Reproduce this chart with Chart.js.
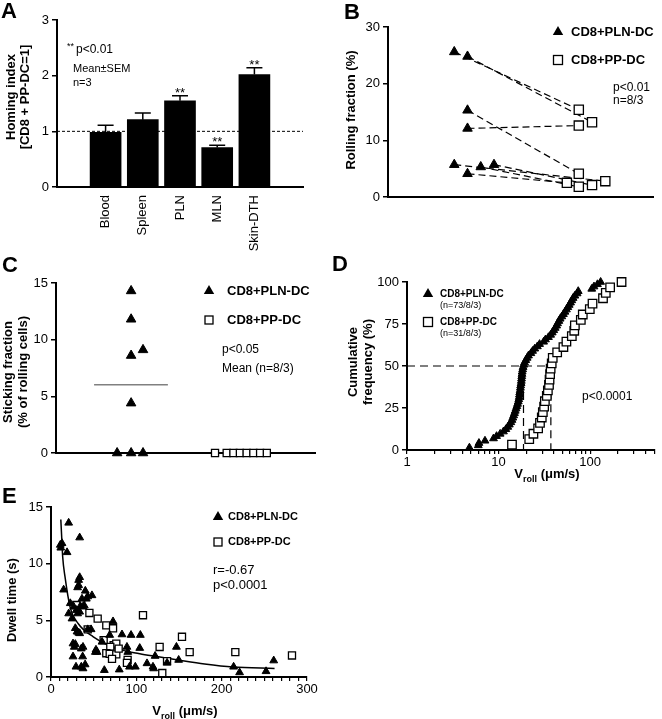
<!DOCTYPE html>
<html lang="en">
<head>
<meta charset="UTF-8">
<title>CD8+ DC homing, rolling and sticking</title>
<style>
    * { margin: 0; padding: 0; box-sizing: border-box; }
    body { width: 662px; height: 719px; background: #fff; overflow: hidden; }
    .figure { position: relative; width: 662px; height: 719px; }
    .figure canvas { position: absolute; left: 0; top: 0; }
</style>
</head>
<body>
<div class="figure">
    <canvas id="chartA" width="662" height="719"></canvas>
    <canvas id="chartB" width="662" height="719"></canvas>
    <canvas id="chartC" width="662" height="719"></canvas>
    <canvas id="chartD" width="662" height="719"></canvas>
    <canvas id="chartE" width="662" height="719"></canvas>
</div>

<script src="https://cdn.jsdelivr.net/npm/chart.js"></script>
<script>
// ---- A: homing index (mean +- SEM)
const organs = ['Blood', 'Spleen', 'PLN', 'MLN', 'Skin-DTH'];
const homingMean = [0.98, 1.21, 1.55, 0.71, 2.02];
const homingSem = [0.13, 0.12, 0.09, 0.04, 0.12];
const homingStars = ['', '', '**', '**', '**'];
const homingTicks = [0, 1, 2, 3];

// ---- B: rolling fraction, paired venules (PLN-DC -> PP-DC)
const rollPLN = [25.6, 24.8, 15.3, 12.1, 5.7, 4.1, 5.3, 5.7];
const rollPLNjit = [2.5, 3.0, 3.0, 3.0, 2.5, 3.0, 3.5, 4.0];
const rollPP = [15.4, 13.2, 4.1, 12.6, 2.8, 2.5, 1.8, 2.1];
const rollPPjit = [7.2, 7.7, 7.2, 7.2, 8.2, 6.75, 7.2, 7.7];
const rollTicks = [0, 10, 20, 30];

// ---- C: sticking fraction
const stickPLN = [14.3, 11.8, 8.6, 9.1, 4.4, 0, 0, 0];
const stickPLNjit = [2.9, 2.9, 2.9, 3.36, 2.9, 2.36, 2.9, 3.36];
const stickPP = [0, 0, 0, 0, 0, 0, 0, 0];
const stickPPjit = [6.14, 6.59, 6.85, 7.1, 7.36, 7.62, 7.88, 8.14];
const stickTicks = [0, 5, 10, 15];

// ---- D: rolling velocities (um/s), shown as cumulative frequency
const vrollPLN = [4.8, 6.0, 6.1, 7.1, 8.8, 9.5, 10.4, 11.3, 12.0, 12.6, 13.1, 13.6, 14.0, 14.3, 14.6,
    14.9, 15.2, 15.5, 15.8, 16.1, 16.4, 16.6, 16.8, 16.9, 17.0, 17.2, 17.3, 17.4, 17.6, 17.7, 17.8,
    17.9, 18.0, 18.1, 18.3, 18.5, 18.8, 19.2, 19.8, 20.5, 21.2, 22.5, 23.5, 24.8, 26.5, 28.0, 31.0,
    32.5, 35.0, 37.0, 38.5, 40.0, 41.5, 43.0, 44.0, 45.5, 47.0, 49.0, 51.0, 53.0, 55.0, 57.0, 59.0,
    61.0, 63.0, 65.0, 68.0, 72.0, 74.0, 104, 110, 120, 130];
const vrollPP = [14, 21.6, 24, 27, 28.3, 29.6, 30.4, 31.4, 32, 33.6, 34.5, 35.5, 36, 36.5, 37, 38,
    39, 43.6, 51, 55, 63, 67, 68, 79, 83, 99, 106, 138, 148, 165, 220];
const medianPLN = 18.7;
const medianPP = 37.2;
const cumTicks = [0, 25, 50, 75, 100];
const vrollLabels = [1, 10, 100];

// ---- E: dwell time (s) vs rolling velocity (um/s)
const dwellPLNv = [10.9, 12.9, 11.5, 18.8, 20.7, 14.8, 33.6, 33.6, 32.4, 32.4, 31.2, 40.2, 43, 48, 36.3,
    41.4, 22.6, 26.6, 34.4, 37.5, 39, 29.7, 33.6, 20.7, 31.2, 24.6, 47, 43, 28.5, 30.5, 32.4, 33.6,
    72.7, 37.5, 35.5, 25.8, 28.5, 27.3, 25.8, 37.1, 52.7, 52, 54, 29.3, 35.5, 37.5, 40, 62.5, 59.8,
    68.8, 83.2, 93.8, 104.7, 89, 90, 80, 92, 98.8, 104, 112.5, 119.5, 122, 120.3, 136, 147, 149.6,
    214, 221, 252, 261];
const dwellPLNt = [11.65, 11.8, 11.4, 11.0, 13.6, 7.7, 12.3, 8.8, 8.55, 8.1, 7.9, 7.6, 7.1, 7.2, 6.9,
    6.9, 6.5, 6.2, 6.25, 6.2, 6.3, 5.9, 5.75, 5.6, 5.6, 5.15, 4.2, 4.2, 4.3, 4.0, 3.9, 3.85,
    4.9, 2.65, 2.5, 2.95, 2.9, 2.65, 1.8, 1.8, 2.4, 2.2, 2.2, 0.9, 0.9, 0.75, 1.1, 0.6, 3.1,
    3.7, 3.75, 3.7, 3.7, 2.65, 2.2, 0.65, 0.9, 0.9, 2.55, 1.2, 0.9, 1.85, 0.75, 1.25, 2.65, 1.5,
    0.9, 0.4, 0.5, 1.45];
const dwellPPv = [29.7, 45, 54.7, 64.8, 72.7, 43, 61.7, 73.4, 76.5, 69.5, 64.8, 68.8, 76.5, 79.3, 71.5,
    89.8, 89, 107.8, 127.3, 130.4, 136, 153.5, 162.5, 216, 282.4];
const dwellPPt = [6.35, 5.65, 5.15, 4.55, 4.3, 4.2, 3.25, 2.8, 2.95, 2.65, 2.1, 2.05, 2.0, 2.5, 1.6,
    1.5, 1.25, 5.45, 2.65, 0.35, 1.4, 3.55, 2.2, 2.2, 1.9];
const fitV = [11.5, 12.5, 13.7, 16.4, 22.3, 32, 49.6, 77, 104, 124, 149, 180, 213, 262];
const fitT = [13.9, 12.4, 10.6, 8.85, 6.2, 4.7, 3.55, 2.5, 2.05, 1.8, 1.5, 1.15, 0.88, 0.75];
const dwellTicks = [0, 5, 10, 15];
const dwellVLabels = [0, 100, 200, 300];

// ---------------------------------------------------------------
const FONT = '"Liberation Sans", Arial, Helvetica, sans-serif';
const W = 662, H = 719;
const tickFont = { family: FONT, size: 13 };

// every canvas covers the whole figure; padding puts each plot area in place
function box(L, T, R, B, xh) {
    return { padding: { left: L - 40, top: T, right: W - R, bottom: H - B - (xh || 30) } };
}
function fixSize(s) {
    if (s.isHorizontal()) s.height = 30; else s.width = 40;
}
function setTicks(list) {
    return s => { s.ticks = list.map(v => ({ value: v })); };
}
function yAxis(min, max, ticks) {
    return {
        type: 'linear', min: min, max: max,
        afterFit: fixSize,
        afterBuildTicks: setTicks(ticks),
        ticks: { color: '#000', font: tickFont, padding: 3 },
        grid: { drawOnChartArea: false, tickLength: 5, color: '#000', lineWidth: 1.5 },
        border: { color: '#000', width: 2 }
    };
}
function plainX(min, max) {
    return {
        type: 'linear', min: min, max: max,
        afterFit: fixSize,
        ticks: { display: false },
        grid: { display: false },
        border: { color: '#000', width: 2 }
    };
}
function baseOptions(layout, scales) {
    return {
        responsive: false,
        animation: false,
        events: [],
        layout: layout,
        scales: scales,
        plugins: { legend: { display: false }, tooltip: { enabled: false } }
    };
}

// little drawing helpers for letters, titles and legends
function put(ctx, s, x, y, size, bold, align, rotate) {
    ctx.save();
    ctx.font = (bold ? 'bold ' : '') + size + 'px ' + FONT;
    ctx.fillStyle = '#000';
    ctx.textAlign = align || 'left';
    ctx.textBaseline = 'middle';
    ctx.translate(x, y);
    if (rotate) ctx.rotate(-Math.PI / 2);
    ctx.fillText(s, 0, 0);
    ctx.restore();
}
function tri(ctx, x, y, r) {
    ctx.save();
    ctx.beginPath();
    ctx.moveTo(x, y - r);
    ctx.lineTo(x + r * 0.866, y + r / 2);
    ctx.lineTo(x - r * 0.866, y + r / 2);
    ctx.closePath();
    ctx.fillStyle = '#000';
    ctx.fill();
    ctx.restore();
}
function sq(ctx, x, y, side) {
    ctx.save();
    ctx.fillStyle = '#fff';
    ctx.strokeStyle = '#000';
    ctx.lineWidth = 1.3;
    ctx.fillRect(x - side / 2, y - side / 2, side, side);
    ctx.strokeRect(x - side / 2, y - side / 2, side, side);
    ctx.restore();
}
function vroll(ctx, cx, y, size) {
    const big = 'bold ' + size + 'px ' + FONT;
    const small = 'bold ' + Math.round(size * 0.7) + 'px ' + FONT;
    ctx.save();
    ctx.fillStyle = '#000';
    ctx.textAlign = 'left';
    ctx.textBaseline = 'alphabetic';
    ctx.font = big;
    const w1 = ctx.measureText('V').width;
    const w3 = ctx.measureText(' (\u03bcm/s)').width;
    ctx.font = small;
    const w2 = ctx.measureText('roll').width;
    let x = cx - (w1 + w2 + w3) / 2;
    ctx.font = big; ctx.fillText('V', x, y); x += w1;
    ctx.font = small; ctx.fillText('roll', x, y + size * 0.3); x += w2;
    ctx.font = big; ctx.fillText(' (\u03bcm/s)', x, y);
    ctx.restore();
}
function pts(xs, ys) {
    return xs.map((x, i) => ({ x: x, y: ys[i] }));
}
function cumulative(values) {
    const sorted = values.slice().sort((a, b) => a - b);
    return sorted.map((v, i) => ({ x: v, y: (i + 1) / sorted.length * 100 }));
}

const triangles = { pointStyle: 'triangle', backgroundColor: '#000', borderColor: '#000', borderWidth: 1, showLine: false, clip: false };
const squares = { pointStyle: 'rect', backgroundColor: '#fff', borderColor: '#000', borderWidth: 1.3, showLine: false, clip: false };

// ---- Panel A
new Chart(document.getElementById('chartA'), {
    type: 'bar',
    data: {
        datasets: [{
            data: homingMean.map((m, i) => ({ x: i, y: m })),
            backgroundColor: '#000',
            barThickness: 31
        }]
    },
    options: baseOptions(box(57, 20, 303, 187, 80), {
        x: {
            type: 'linear', min: -0.645, max: 4.645,
            afterFit: s => { s.height = 80; },
            afterBuildTicks: setTicks(organs.map((o, i) => i)),
            ticks: { color: '#000', font: tickFont, minRotation: 90, maxRotation: 90, padding: 0,
                     callback: v => organs[v] },
            grid: { display: false },
            border: { color: '#000', width: 2 }
        },
        y: yAxis(0, 3, homingTicks)
    }),
    plugins: [{
        id: 'homingExtras',
        afterDatasetsDraw(chart) {
            const ctx = chart.ctx, xs = chart.scales.x, ys = chart.scales.y, area = chart.chartArea;
            ctx.save();
            // reference line at index = 1
            ctx.strokeStyle = '#000';
            ctx.lineWidth = 1;
            ctx.setLineDash([3, 2]);
            ctx.beginPath();
            ctx.moveTo(area.left, ys.getPixelForValue(1));
            ctx.lineTo(area.right, ys.getPixelForValue(1));
            ctx.stroke();
            ctx.setLineDash([]);
            // SEM bars, upward only
            ctx.lineWidth = 1.5;
            homingMean.forEach((m, i) => {
                const x = xs.getPixelForValue(i);
                const y0 = ys.getPixelForValue(m);
                const y1 = ys.getPixelForValue(m + homingSem[i]);
                ctx.beginPath();
                ctx.moveTo(x, y0); ctx.lineTo(x, y1);
                ctx.moveTo(x - 8, y1); ctx.lineTo(x + 8, y1);
                ctx.stroke();
                if (homingStars[i]) {
                    ctx.font = '13px ' + FONT;
                    ctx.fillStyle = '#000';
                    ctx.textAlign = 'center';
                    ctx.textBaseline = 'alphabetic';
                    ctx.fillText(homingStars[i], x, y1 + 1);
                }
            });
            ctx.restore();
        },
        afterDraw(chart) {
            const ctx = chart.ctx;
            put(ctx, 'A', 1, 12, 22, true);
            put(ctx, 'Homing index', 11, 97, 13, true, 'center', true);
            put(ctx, '[CD8 + PP-DC=1]', 25, 97, 13, true, 'center', true);
            put(ctx, '**', 67, 47, 9, false);
            put(ctx, 'p<0.01', 76, 50, 12, false);
            put(ctx, 'Mean\u00b1SEM', 73, 69, 11, false);
            put(ctx, 'n=3', 73, 83, 11, false);
        }
    }]
});

// ---- Panel B
const pairSets = rollPLN.map((v, i) => ({
    data: [{ x: rollPLNjit[i], y: v }, { x: rollPPjit[i], y: rollPP[i] }],
    showLine: true, borderColor: '#000', borderWidth: 1.2, borderDash: [7, 4],
    pointRadius: 0, order: 2, clip: false
}));
new Chart(document.getElementById('chartB'), {
    type: 'scatter',
    data: {
        datasets: pairSets.concat([
            Object.assign({ data: pts(rollPLNjit, rollPLN), pointRadius: 5.5, order: 0 }, triangles),
            Object.assign({ data: pts(rollPPjit, rollPP), pointRadius: 6.5, order: 0 }, squares)
        ])
    },
    options: baseOptions(box(388, 27, 653, 197), { x: plainX(0, 10), y: yAxis(0, 30, rollTicks) }),
    plugins: [{
        id: 'rollText',
        afterDraw(chart) {
            const ctx = chart.ctx;
            put(ctx, 'B', 344, 13, 22, true);
            put(ctx, 'Rolling fraction (%)', 351, 110, 13, true, 'center', true);
            tri(ctx, 558, 32, 6);
            put(ctx, 'CD8+PLN-DC', 571, 32, 13, true);
            sq(ctx, 558, 60, 9);
            put(ctx, 'CD8+PP-DC', 571, 60, 13, true);
            put(ctx, 'p<0.01', 613, 88, 12, false);
            put(ctx, 'n=8/3', 613, 101, 12, false);
        }
    }]
});

// ---- Panel C
const stickMean = stickPLN.reduce((a, b) => a + b, 0) / stickPLN.length;
new Chart(document.getElementById('chartC'), {
    type: 'scatter',
    data: {
        datasets: [
            { data: [{ x: 1.47, y: stickMean }, { x: 4.32, y: stickMean }], showLine: true,
              borderColor: '#808080', borderWidth: 1.5, pointRadius: 0, order: 2 },
            Object.assign({ data: pts(stickPLNjit, stickPLN), pointRadius: 5.5, order: 0 }, triangles),
            Object.assign({ data: pts(stickPPjit, stickPP), pointRadius: 5, order: 0 }, squares)
        ]
    },
    options: baseOptions(box(56, 283, 315, 453), { x: plainX(0, 10), y: yAxis(0, 15, stickTicks) }),
    plugins: [{
        id: 'stickText',
        afterDraw(chart) {
            const ctx = chart.ctx;
            put(ctx, 'C', 2, 266, 22, true);
            put(ctx, 'Sticking fraction', 8, 372, 13, true, 'center', true);
            put(ctx, '(% of rolling cells)', 23, 372, 13, true, 'center', true);
            tri(ctx, 209, 291, 6);
            put(ctx, 'CD8+PLN-DC', 227, 291, 13, true);
            sq(ctx, 209, 320, 8);
            put(ctx, 'CD8+PP-DC', 227, 320, 13, true);
            put(ctx, 'p<0.05', 222, 350, 12, false);
            put(ctx, 'Mean (n=8/3)', 222, 369, 12, false);
        }
    }]
});

// ---- Panel D
const medianDash = { showLine: true, borderColor: '#000', borderWidth: 1.2, borderDash: [8, 5],
                     pointRadius: 0, order: 3, clip: false };
new Chart(document.getElementById('chartD'), {
    type: 'scatter',
    data: {
        datasets: [
            Object.assign({ data: [{ x: 1, y: 50 }, { x: medianPP, y: 50 }, { x: medianPP, y: 0 }] }, medianDash),
            Object.assign({ data: [{ x: medianPLN, y: 50 }, { x: medianPLN, y: 0 }] }, medianDash),
            Object.assign({ data: cumulative(vrollPLN), pointRadius: 4.5, order: 0 }, triangles),
            Object.assign({ data: cumulative(vrollPP), pointRadius: 6, order: 1 }, squares)
        ]
    },
    options: baseOptions(box(407, 282, 662, 450), {
        x: {
            type: 'logarithmic', min: 1, max: 506,
            afterFit: fixSize,
            afterBuildTicks(s) {
                const t = [];
                for (let d = 1; d <= 100; d *= 10)
                    for (let k = 1; k <= 9 && k * d <= 506; k++) t.push({ value: k * d });
                s.ticks = t;
            },
            ticks: { color: '#000', font: tickFont, autoSkip: false, maxRotation: 0, padding: 1,
                     callback: v => vrollLabels.includes(v) ? String(v) : '' },
            grid: { drawOnChartArea: false, tickLength: 4, color: '#000', lineWidth: 1.2 },
            border: { color: '#000', width: 2 }
        },
        y: yAxis(0, 100, cumTicks)
    }),
    plugins: [{
        id: 'cumText',
        afterDraw(chart) {
            const ctx = chart.ctx;
            put(ctx, 'D', 332, 265, 22, true);
            put(ctx, 'Cumulative', 353, 362, 13, true, 'center', true);
            put(ctx, 'frequency (%)', 368, 362, 13, true, 'center', true);
            tri(ctx, 428, 294, 6);
            put(ctx, 'CD8+PLN-DC', 440, 294, 10, true);
            put(ctx, '(n=73/8/3)', 440, 306, 9, false);
            sq(ctx, 428, 322, 9);
            put(ctx, 'CD8+PP-DC', 440, 322, 10, true);
            put(ctx, '(n=31/8/3)', 440, 334, 9, false);
            put(ctx, 'p<0.0001', 582, 397, 12, false);
            vroll(ctx, 547, 478, 13);
        }
    }]
});

// ---- Panel E
new Chart(document.getElementById('chartE'), {
    type: 'scatter',
    data: {
        datasets: [
            { data: pts(fitV, fitT), showLine: true, borderColor: '#000', borderWidth: 1.5,
              pointRadius: 0, cubicInterpolationMode: 'monotone', order: 2 },
            Object.assign({ data: pts(dwellPLNv, dwellPLNt), pointRadius: 4.5, order: 0 }, triangles),
            Object.assign({ data: pts(dwellPPv, dwellPPt), pointRadius: 5, order: 1 }, squares)
        ]
    },
    options: baseOptions(box(51, 507, 307, 677), {
        x: {
            type: 'linear', min: 0, max: 300,
            afterFit: fixSize,
            afterBuildTicks(s) {
                const t = [];
                for (let v = 0; v <= 300; v += 10) t.push({ value: v });
                s.ticks = t;
            },
            ticks: { color: '#000', font: tickFont, autoSkip: false, maxRotation: 0, padding: 1,
                     callback: v => dwellVLabels.includes(v) ? String(v) : '' },
            grid: { drawOnChartArea: false, tickLength: 4, color: '#000', lineWidth: 1.2 },
            border: { color: '#000', width: 2 }
        },
        y: yAxis(0, 15, dwellTicks)
    }),
    plugins: [{
        id: 'dwellText',
        afterDraw(chart) {
            const ctx = chart.ctx;
            put(ctx, 'E', 2, 497, 22, true);
            put(ctx, 'Dwell time (s)', 12, 600, 13, true, 'center', true);
            tri(ctx, 218, 517, 6);
            put(ctx, 'CD8+PLN-DC', 228, 517, 11, true);
            sq(ctx, 218, 542, 8);
            put(ctx, 'CD8+PP-DC', 228, 542, 11, true);
            put(ctx, 'r=-0.67', 213, 570, 13, false);
            put(ctx, 'p<0.0001', 213, 585, 13, false);
            vroll(ctx, 185, 715, 13);
        }
    }]
});
</script>
</body>
</html>
